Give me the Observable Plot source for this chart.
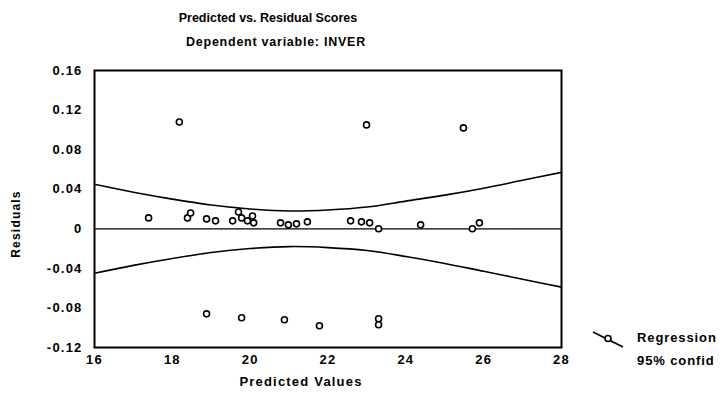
<!DOCTYPE html>
<html>
<head>
<meta charset="utf-8">
<script src="https://cdn.jsdelivr.net/npm/d3@7"></script>
<script src="https://cdn.jsdelivr.net/npm/@observablehq/plot@0.6"></script>
<style>
  html, body { margin: 0; padding: 0; background: #fff; }
  #wrap { position: relative; width: 723px; height: 395px; overflow: hidden; font-family: "Liberation Sans", Arial, sans-serif; }
  .ttl { position: absolute; font-weight: bold; font-size: 12.5px; color: #000; white-space: nowrap; transform: translateX(-50%); }
  #legend { position: absolute; left: 590px; top: 326px; font-weight: bold; font-size: 13px; letter-spacing: 0.9px; color: #000; white-space: nowrap; }
  svg text { letter-spacing: 1.2px; }
</style>
</head>
<body>
<div id="wrap"></div>
<script>
// Scatter: predicted values (x) vs residuals (y)
const predicted = [17.39, 18.18, 18.39, 18.47, 18.88, 19.11, 18.88, 19.55, 19.70, 19.78, 19.93, 20.06, 20.09,
                   19.78, 20.78, 20.98, 21.19, 21.47, 20.88, 21.78, 22.99, 22.58, 22.86, 23.07, 23.30,
                   23.30, 23.30, 24.38, 25.48, 25.71, 25.89];
const residuals = [0.011, 0.108, 0.011, 0.016, 0.010, 0.008, -0.086, 0.008, 0.017, 0.011, 0.008, 0.013, 0.006,
                   -0.090, 0.006, 0.004, 0.005, 0.007, -0.092, -0.098, 0.105, 0.008, 0.007, 0.006, 0.000,
                   -0.091, -0.097, 0.004, 0.102, 0.000, 0.006];
// Regression line and 95% confidence band
const bandX     = [16, 17, 18, 19, 20, 21, 22, 23, 24, 25, 26, 27, 28];
const bandUpper = [0.045, 0.037, 0.030, 0.024, 0.020, 0.018, 0.019, 0.022, 0.028, 0.034, 0.041, 0.049, 0.057];
const bandLower = [-0.045, -0.037, -0.030, -0.024, -0.020, -0.018, -0.019, -0.022, -0.028, -0.035, -0.043, -0.051, -0.059];
const regX = [16, 28];
const regY = [0, 0];
const xTicks = [16, 18, 20, 22, 24, 26, 28];
const yTicks = [0.16, 0.12, 0.08, 0.04, 0, -0.04, -0.08, -0.12];

const pts = predicted.map((x, i) => ({x, y: residuals[i]}));
const upper = bandX.map((x, i) => ({x, y: bandUpper[i]}));
const lower = bandX.map((x, i) => ({x, y: bandLower[i]}));
const reg = regX.map((x, i) => ({x, y: regY[i]}));

const fmt = d => d === 0 ? "0" : d3.format(".2f")(d).replace("−", "-");

const chart = Plot.plot({
  width: 723,
  height: 395,
  marginLeft: 94,
  marginRight: 162,
  marginTop: 70,
  marginBottom: 48,
  style: {fontFamily: "'Liberation Sans', Arial, sans-serif", fontSize: "13px", fontWeight: "bold", color: "#000", background: "#fff"},
  x: {type: "linear", domain: [16, 28], label: null},
  y: {type: "linear", domain: [-0.12, 0.16], label: null},
  marks: [
    Plot.axisX({ticks: xTicks, tickSize: 0, tickPadding: 7, tickFormat: d => String(d), label: null, fontSize: 13}),
    Plot.axisY({ticks: yTicks, tickSize: 0, tickPadding: 12, tickFormat: fmt, label: null, fontSize: 13}),
    Plot.line(upper, {x: "x", y: "y", curve: "catmull-rom", stroke: "#000", strokeWidth: 1.6}),
    Plot.line(lower, {x: "x", y: "y", curve: "catmull-rom", stroke: "#000", strokeWidth: 1.6}),
    Plot.line(reg, {x: "x", y: "y", stroke: "#000", strokeWidth: 1.3}),
    Plot.dot(pts, {x: "x", y: "y", r: 3, stroke: "#000", strokeWidth: 1.6, fill: "#fff"}),
    Plot.frame({stroke: "#000", strokeWidth: 2}),
    Plot.text(["Residuals"], {frameAnchor: "left", textAnchor: "middle", dx: -78, dy: 15, rotate: -90, fontSize: 12, fontWeight: "bold", fill: "#000"}),
    Plot.text(["Predicted Values"], {frameAnchor: "bottom", dx: -27, dy: 38, fontSize: 13, fontWeight: "bold", fill: "#000"})
  ]
});

const wrap = document.getElementById("wrap");
wrap.appendChild(chart);
chart.style.position = "absolute";
chart.style.left = "0px";
chart.style.top = "0px";

const t1 = document.createElement("div");
t1.className = "ttl"; t1.textContent = "Predicted vs. Residual Scores";
t1.style.left = "268px"; t1.style.top = "11px";
const t2 = document.createElement("div");
t2.className = "ttl"; t2.textContent = "Dependent variable: INVER";
t2.style.left = "276px"; t2.style.top = "35px"; t2.style.letterSpacing = "0.75px";
wrap.appendChild(t1); wrap.appendChild(t2);

const lg = document.createElement("div");
lg.id = "legend";
lg.innerHTML = '<svg width="36" height="24" style="position:absolute;left:2px;top:5px"><line x1="1" y1="1" x2="31" y2="16" stroke="#000" stroke-width="1.6"/><circle cx="16" cy="7.5" r="3" fill="#fff" stroke="#000" stroke-width="1.6"/></svg>' +
  '<div style="position:absolute;left:47px;top:4px">Regression</div><div style="position:absolute;left:47px;top:27px">95% confid</div>';
wrap.appendChild(lg);
</script>
</body>
</html>
